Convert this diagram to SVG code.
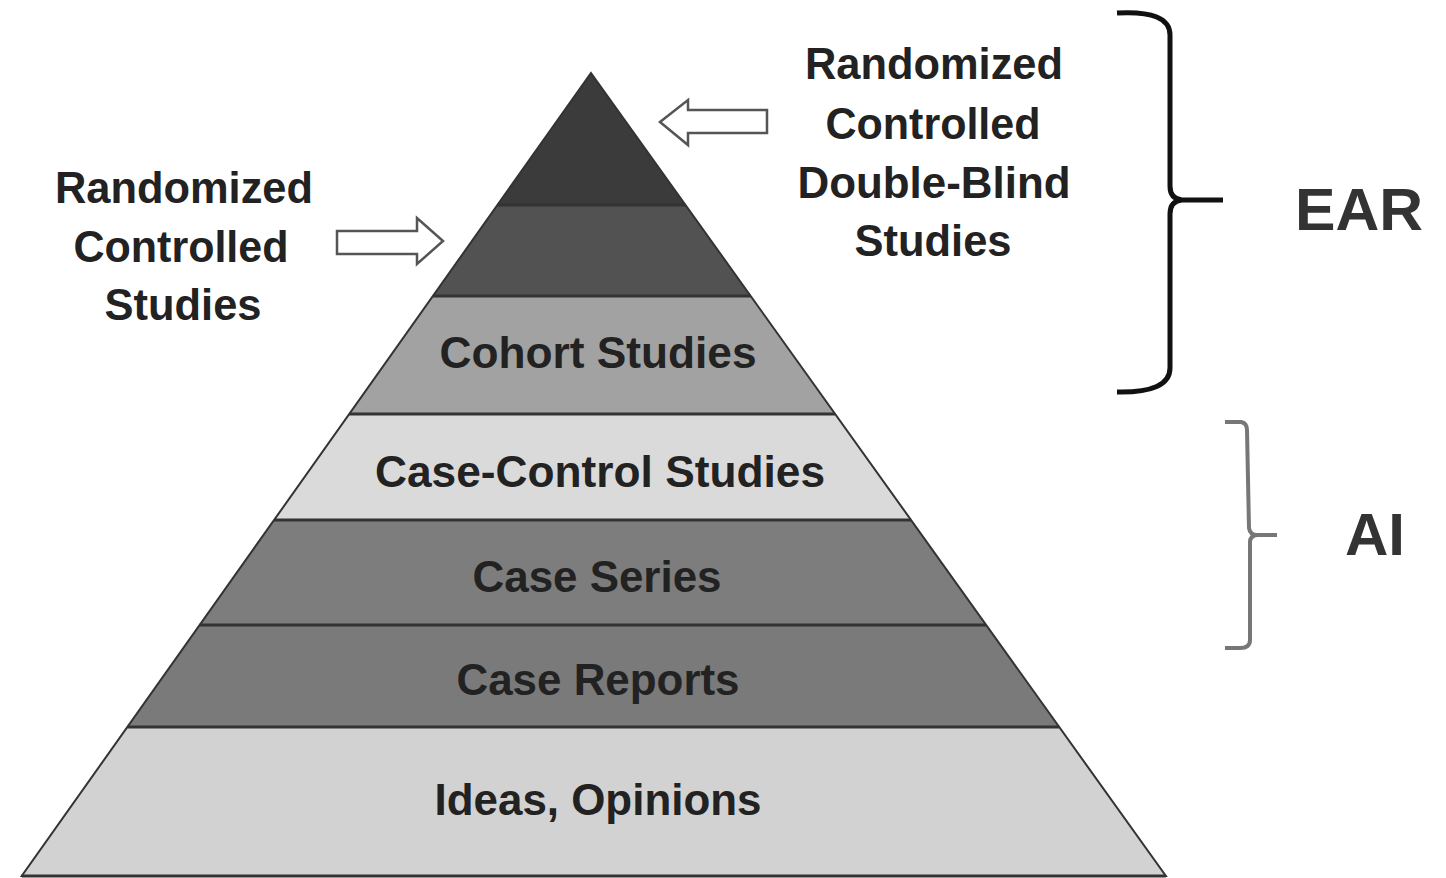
<svg xmlns="http://www.w3.org/2000/svg" width="1446" height="878" viewBox="0 0 1446 878">
<style>
.t{font-family:"Liberation Sans",Arial,sans-serif;font-weight:bold;font-size:45px;fill:#222;text-anchor:middle}
.big{font-family:"Liberation Sans",Arial,sans-serif;font-weight:bold;font-size:60px;fill:#333}
.sep{stroke:#333;stroke-width:3}
.arr{fill:#fff;stroke:#555;stroke-width:2.5;stroke-linejoin:miter}
</style>
<rect width="1446" height="878" fill="#fff"/>
<g id="pyramid">
<g id="layer1"><polygon points="591,73 685.5,205 497.4,205" fill="#3b3b3b"/></g>
<g id="layer2"><polygon points="497.4,205 685.5,205 750.7,296 432.9,296" fill="#525252"/></g>
<g id="layer3"><polygon points="432.9,296 750.7,296 835.2,414 349.2,414" fill="#a2a2a2"/>
<text class="t" x="598" y="368" textLength="317" lengthAdjust="spacingAndGlyphs">Cohort Studies</text></g>
<g id="layer4"><polygon points="349.2,414 835.2,414 911.1,520 274.1,520" fill="#dadada"/>
<text class="t" x="600" y="487" textLength="450" lengthAdjust="spacingAndGlyphs">Case-Control Studies</text></g>
<g id="layer5"><polygon points="274.1,520 911.1,520 986.2,625 199.6,625" fill="#7d7d7d"/>
<text class="t" x="597" y="592" textLength="249" lengthAdjust="spacingAndGlyphs">Case Series</text></g>
<g id="layer6"><polygon points="199.6,625 986.2,625 1059.3,727 127.3,727" fill="#7a7a7a"/>
<text class="t" x="598" y="695" textLength="283" lengthAdjust="spacingAndGlyphs">Case Reports</text></g>
<g id="layer7"><polygon points="127.3,727 1059.3,727 1165.9,876 21.7,876" fill="#d2d2d2"/>
<text class="t" x="598" y="815" textLength="327" lengthAdjust="spacingAndGlyphs">Ideas, Opinions</text></g>
<g id="separators">
<line class="sep" x1="497.4" y1="205" x2="685.5" y2="205" stroke="#2a2a2a"/>
<line class="sep" x1="432.9" y1="296" x2="750.7" y2="296"/>
<line class="sep" x1="349.2" y1="414" x2="835.2" y2="414" stroke="#555"/>
<line class="sep" x1="274.1" y1="520" x2="911.1" y2="520" stroke="#555"/>
<line class="sep" x1="199.6" y1="625" x2="986.2" y2="625"/>
<line class="sep" x1="127.3" y1="727" x2="1059.3" y2="727"/>
<line class="sep" x1="21.7" y1="876" x2="1165.9" y2="876" stroke="#666"/>
</g>
<polygon points="591,73 1165.9,876 21.7,876" fill="none" stroke="#333" stroke-width="2"/>
</g>
<g id="label-rcs">
<text class="t" x="184" y="203" textLength="258" lengthAdjust="spacingAndGlyphs">Randomized</text>
<text class="t" x="181" y="262" textLength="215" lengthAdjust="spacingAndGlyphs">Controlled</text>
<text class="t" x="183" y="320" textLength="157" lengthAdjust="spacingAndGlyphs">Studies</text>
</g>
<g id="label-rcdbs">
<text class="t" x="934" y="79" textLength="258" lengthAdjust="spacingAndGlyphs">Randomized</text>
<text class="t" x="933" y="139" textLength="215" lengthAdjust="spacingAndGlyphs">Controlled</text>
<text class="t" x="934" y="198" textLength="273" lengthAdjust="spacingAndGlyphs">Double-Blind</text>
<text class="t" x="933" y="256" textLength="157" lengthAdjust="spacingAndGlyphs">Studies</text>
</g>
<g id="connectors">
<polygon class="arr" points="660,122 688,100 688,110 767,110 767,133 688,133 688,145"/>
<polygon class="arr" points="337,231 417,231 417,218 443,241 417,264 417,254 337,254"/>
<path d="M1117,13 Q1170,10 1170,35 L1170,186 Q1170,199 1182,200 L1223,200 M1182,200 Q1170,201 1170,214 L1170,368 Q1170,393 1117,392" fill="none" stroke="#111" stroke-width="5"/>
<path d="M1225,422 L1241,422 Q1247,423 1247,430 L1249,528 Q1250,535 1257,535 L1277,535 M1257,535 Q1250,536 1250,542 L1250,640 Q1250,648 1240,648 L1225,648" fill="none" stroke="#777" stroke-width="4"/>
</g>
<g id="label-ear"><text class="big" x="1295" y="230" textLength="128" lengthAdjust="spacingAndGlyphs">EAR</text></g>
<g id="label-ai"><text class="big" x="1345" y="555" textLength="60" lengthAdjust="spacingAndGlyphs">AI</text></g>
</svg>
